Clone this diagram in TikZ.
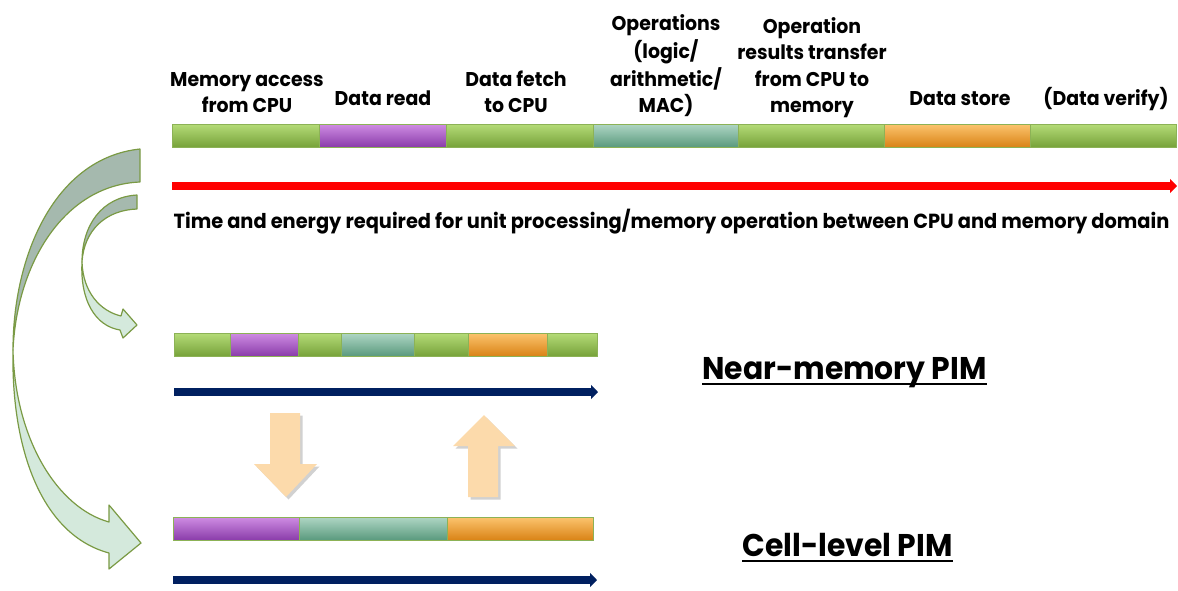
\documentclass[tikz,border=0pt]{standalone}
\usepackage{fontspec}
\newfontfamily\twfont[FakeStretch=0.95]{Poppins}
\usetikzlibrary{arrows.meta,shadows}

\definecolor{gTop}{HTML}{B5DC78}
\definecolor{gBot}{HTML}{77A23A}
\definecolor{pTop}{HTML}{CF8DE3}
\definecolor{pBot}{HTML}{8A3CAA}
\definecolor{tTop}{HTML}{AFD6C4}
\definecolor{tBot}{HTML}{5A9A7E}
\definecolor{oTop}{HTML}{FCC46E}
\definecolor{oBot}{HTML}{D98316}
\definecolor{segLine}{HTML}{8CB256}
\definecolor{navy}{HTML}{002060}
\definecolor{peach}{HTML}{FCDAAB}
\definecolor{curveDark}{HTML}{A5B9AE}
\definecolor{curveLight}{HTML}{D4E9DC}
\definecolor{curveLine}{HTML}{7A9A44}

\tikzset{
  seg/.style={draw=segLine, line width=0.9pt, inner sep=0pt, outer sep=0pt,
              minimum height=23pt, anchor=west, shading angle=0},
  gseg/.style={seg, top color=gTop, bottom color=gBot},
  pseg/.style={seg, top color=pTop, bottom color=pBot},
  tseg/.style={seg, top color=tTop, bottom color=tBot},
  oseg/.style={seg, top color=oTop, bottom color=oBot},
  lbl/.style={font=\twfont\bfseries\fontsize{19.9}{26.5}\selectfont, align=center,
              inner sep=0pt, anchor=south},
  title/.style={font=\twfont\bfseries\fontsize{31.4}{36}\selectfont, inner sep=0pt, anchor=base},
  timeline/.style={line width=8pt, -{Triangle[length=7pt,width=14pt]}},
  blockarrow/.style={fill=peach, draw=none,
              drop shadow={shadow xshift=2.5pt, shadow yshift=-2.5pt, opacity=0.3, fill=black!60}},
  curvedark/.style={fill=curveDark, draw=curveLine, line width=1.2pt, line join=round},
  curvelight/.style={fill=curveLight, draw=curveLine, line width=1.2pt, line join=round},
}

\begin{document}
\begin{tikzpicture}[x=1pt, y=-1pt]
\useasboundingbox (0,0) rectangle (1178,590);

% ---------- full CPU/memory sequence ----------
\node[gseg, minimum width=147pt] (c1) at (172,135.5) {};
\node[pseg, minimum width=127pt] (c2) at (c1.east) {};
\node[gseg, minimum width=147pt] (c3) at (c2.east) {};
\node[tseg, minimum width=145pt] (c4) at (c3.east) {};
\node[gseg, minimum width=146pt] (c5) at (c4.east) {};
\node[oseg, minimum width=146pt] (c6) at (c5.east) {};
\node[gseg, minimum width=146pt] (c7) at (c6.east) {};

\node[lbl] (l1) at (247,121) {\strut Memory access\\\strut from CPU};
\node[lbl] (l2) at (383,113.5) {\strut Data read};
\node[lbl] (l3) at (516,121) {\strut Data fetch\\\strut to CPU};
\node[lbl] (l4) at (666,121) {\strut Operations\\\strut (logic/\\\strut arithmetic/\\\strut MAC)};
\node[lbl] (l5) at (812,121) {\strut Operation\\\strut results transfer\\\strut from CPU to\\\strut memory};
\node[lbl] (l6) at (960,113.5) {\strut Data store};
\node[lbl] (l7) at (1106,113.5) {\strut (Data verify)};

\coordinate (r0) at (172,186);
\coordinate (r1) at (1177,186);
\draw[timeline, red] (r0) -- (r1);

\node[font=\twfont\bfseries\fontsize{20.4}{24}\selectfont, inner sep=0pt, anchor=base]
  (cap) at (671.5,228) {Time and energy required for unit processing/memory operation between CPU and memory domain};

% ---------- near-memory PIM ----------
\node[gseg, minimum width=56pt] (n1) at (174,344.5) {};
\node[pseg, minimum width=68pt] (n2) at (n1.east) {};
\node[gseg, minimum width=43pt] (n3) at (n2.east) {};
\node[tseg, minimum width=73pt] (n4) at (n3.east) {};
\node[gseg, minimum width=54pt] (n5) at (n4.east) {};
\node[oseg, minimum width=79pt] (n6) at (n5.east) {};
\node[gseg, minimum width=50pt] (n7) at (n6.east) {};

\coordinate (b0) at (174,392);
\coordinate (b1) at (598,392);
\draw[timeline, navy] (b0) -- (b1);

\node[title] (nt) at (844.5,379) {Near-memory PIM};
\draw[line width=1.7pt] ([yshift=-5pt]nt.base west) -- ([yshift=-5pt]nt.base east);

% ---------- cell-level PIM ----------
\node[pseg, minimum width=126pt] (m1) at (173,528.5) {};
\node[tseg, minimum width=148pt] (m2) at (m1.east) {};
\node[oseg, minimum width=146pt] (m3) at (m2.east) {};

\coordinate (d0) at (173,580);
\coordinate (d1) at (597,580);
\draw[timeline, navy] (d0) -- (d1);

\node[title] (ct) at (847.5,556) {Cell-level PIM};
\draw[line width=1.7pt] ([yshift=-5pt]ct.base west) -- ([yshift=-5pt]ct.base east);

% ---------- block arrows between the two PIM sequences ----------
\fill[blockarrow] (270,413) -- (300,413) -- (300,464) -- (317,464) -- (286,497)
  -- (254,464) -- (270,464) -- cycle;
\fill[blockarrow] (468,497) -- (468,446) -- (453,446) -- (484,415) -- (515,446)
  -- (498,446) -- (498,497) -- cycle;

% ---------- curved arrows ----------
% large arrow: back face, then front face with head
\draw[curvedark] (140,149) .. controls (55,158) and (13,255) .. (13,350)
  .. controls (17,262) and (65,185) .. (140,182) -- cycle;
\draw[curvelight] (13,350) .. controls (15,440) and (58,508) .. (109,522)
  -- (109,505) -- (141,543) -- (109,569) -- (109,553)
  .. controls (42,535) and (11,450) .. (13,350) -- cycle;
% small arrow
\draw[curvedark] (137,195) .. controls (102,197) and (82,225) .. (82,262)
  .. controls (84,230) and (106,210) .. (137,209) -- cycle;
\draw[curvelight] (82,262) .. controls (83,292) and (100,311) .. (121,316)
  -- (123,309) -- (137,325) -- (123,338) -- (120,330)
  .. controls (95,326) and (80,300) .. (82,262) -- cycle;
\end{tikzpicture}
\end{document}
